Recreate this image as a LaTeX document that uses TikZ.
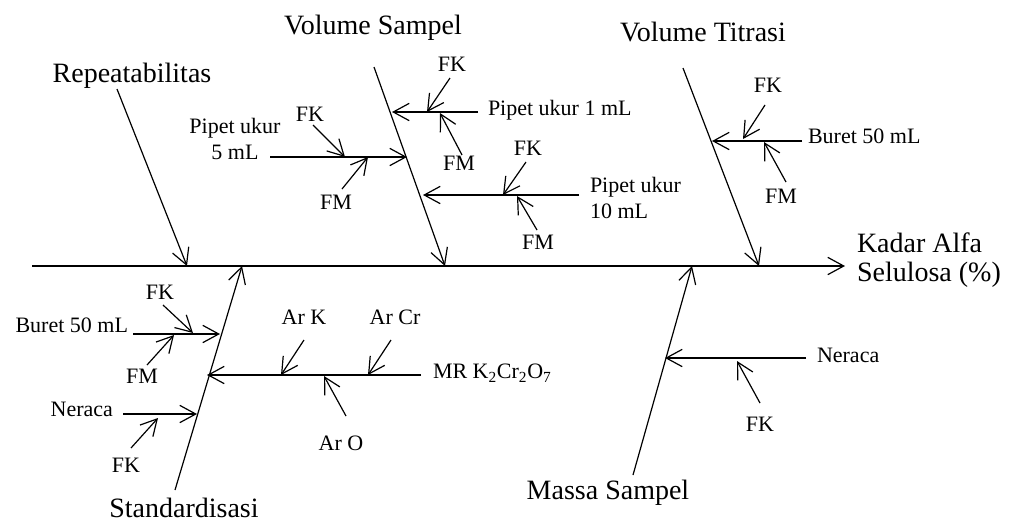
\documentclass[tikz,border=0pt]{standalone}
\usepackage{fontspec}
\setmainfont{Liberation Serif}
\usetikzlibrary{arrows.meta}
\begin{document}
\begin{tikzpicture}[x=0.75pt,y=-0.75pt,
  every node/.style={inner sep=0pt,outer sep=0pt},
  big/.style={font=\fontsize{21}{23}\selectfont},
  small/.style={font=\fontsize{16.5}{19.5}\selectfont},
  conn/.style={line width=0.9pt,-{Straight Barb[length=12pt,width=13pt,line width=0.9pt]}},
  plain/.style={line width=0.9pt}]
\useasboundingbox (0,0) rectangle (1017,522);
% spine
\coordinate (s0) at (32,266);
\coordinate (s1) at (845,266);
\draw[conn] (s0) -- (s1);
\node[big,anchor=west] (kadar) at (857,243) {Kadar Alfa};
\node[big,anchor=west] (selul) at (857,275) {Selulosa (\%)};
% Repeatabilitas
\node[big] (rep) at (132,76) {Repeatabilitas};
\coordinate (r0) at (117,89);
\coordinate (r1) at (187,266);
\draw[conn] (r0) -- (r1);
% Volume Sampel
\node[big] (vs) at (373,28) {Volume Sampel};
\coordinate (vs0) at (374,67);
\coordinate (vs1) at (445,266);
\draw[conn] (vs0) -- (vs1);
% Pipet ukur 1 mL
\node[small,anchor=west] (p1) at (488,110) {Pipet ukur 1 mL};
\coordinate (p1a) at (478,112);
\coordinate (p1b) at (392,112);
\draw[conn] (p1a) -- (p1b);
\node[small] (p1fk) at (452,64) {FK};
\coordinate (p1fka) at (450,78);
\coordinate (p1fkb) at (427,112);
\draw[conn] (p1fka) -- (p1fkb);
\node[small] (p1fm) at (459,163) {FM};
\coordinate (p1fma) at (462,155);
\coordinate (p1fmb) at (440,113);
\draw[conn] (p1fma) -- (p1fmb);
% Pipet ukur 5 mL
\node[small,align=center] (p5) at (235,139) {Pipet ukur\\5 mL};
\coordinate (p5a) at (270,157);
\coordinate (p5b) at (407,157);
\draw[conn] (p5a) -- (p5b);
\node[small] (p5fk) at (310,114) {FK};
\coordinate (p5fka) at (313,125);
\coordinate (p5fkb) at (345,157);
\draw[conn] (p5fka) -- (p5fkb);
\node[small] (p5fm) at (336,202) {FM};
\coordinate (p5fma) at (342,189);
\coordinate (p5fmb) at (368,157);
\draw[conn] (p5fma) -- (p5fmb);
% Pipet ukur 10 mL
\node[small,align=left,anchor=west] (p10) at (590,198) {Pipet ukur\\10 mL};
\coordinate (p10a) at (579,195);
\coordinate (p10b) at (423,195);
\draw[conn] (p10a) -- (p10b);
\node[small] (p10fk) at (528,148) {FK};
\coordinate (p10fka) at (526,162);
\coordinate (p10fkb) at (503,195);
\draw[conn] (p10fka) -- (p10fkb);
\node[small] (p10fm) at (538,242) {FM};
\coordinate (p10fma) at (537,230);
\coordinate (p10fmb) at (517,196);
\draw[conn] (p10fma) -- (p10fmb);
% Volume Titrasi
\node[big] (vt) at (703,32) {Volume Titrasi};
\coordinate (vt0) at (683,68);
\coordinate (vt1) at (759,266);
\draw[conn] (vt0) -- (vt1);
\node[small,anchor=west] (bur1) at (808,136) {Buret 50 mL};
\coordinate (bur1a) at (802,141);
\coordinate (bur1b) at (712,141);
\draw[conn] (bur1a) -- (bur1b);
\node[small] (bur1fk) at (768,85) {FK};
\coordinate (bur1fka) at (765,105);
\coordinate (bur1fkb) at (743,139);
\draw[conn] (bur1fka) -- (bur1fkb);
\node[small] (bur1fm) at (781,196) {FM};
\coordinate (bur1fma) at (786,182);
\coordinate (bur1fmb) at (764,142);
\draw[conn] (bur1fma) -- (bur1fmb);
% Standardisasi
\node[big] (std) at (184,508) {Standardisasi};
\coordinate (st0) at (175,490);
\coordinate (st1) at (242,266);
\draw[conn] (st0) -- (st1);
\node[small,anchor=east] (bur2) at (128,325) {Buret 50 mL};
\coordinate (bur2a) at (133,334);
\coordinate (bur2b) at (220,334);
\draw[conn] (bur2a) -- (bur2b);
\node[small] (bur2fk) at (160,292) {FK};
\coordinate (bur2fka) at (163,305);
\coordinate (bur2fkb) at (193,333);
\draw[conn] (bur2fka) -- (bur2fkb);
\node[small] (bur2fm) at (142,376) {FM};
\coordinate (bur2fma) at (147,365);
\coordinate (bur2fmb) at (174,335);
\draw[conn] (bur2fma) -- (bur2fmb);
\node[small,anchor=west] (mr) at (433,373) {MR K\textsubscript{2}Cr\textsubscript{2}O\textsubscript{7}};
\coordinate (mra) at (421,375);
\coordinate (mrb) at (207,375);
\draw[conn] (mra) -- (mrb);
\node[small] (ark) at (304,317) {Ar K};
\coordinate (arka) at (304,340);
\coordinate (arkb) at (281,375);
\draw[conn] (arka) -- (arkb);
\node[small] (arcr) at (395,317) {Ar Cr};
\coordinate (arcra) at (391,340);
\coordinate (arcrb) at (368,375);
\draw[conn] (arcra) -- (arcrb);
\node[small] (aro) at (341,443) {Ar O};
\coordinate (aroa) at (346,416);
\coordinate (arob) at (324,376);
\draw[conn] (aroa) -- (arob);
\node[small,anchor=east] (ner1) at (113,409) {Neraca};
\coordinate (ner1a) at (123,414);
\coordinate (ner1b) at (197,414);
\draw[conn] (ner1a) -- (ner1b);
\node[small] (ner1fk) at (126,465) {FK};
\coordinate (ner1fka) at (131,448);
\coordinate (ner1fkb) at (158,418);
\draw[conn] (ner1fka) -- (ner1fkb);
% Massa Sampel
\node[big] (ms) at (608,493) {Massa Sampel};
\coordinate (ms0) at (633,475);
\coordinate (ms1) at (692,266);
\draw[conn] (ms0) -- (ms1);
\node[small,anchor=west] (ner2) at (817,355) {Neraca};
\coordinate (ner2a) at (806,358);
\coordinate (ner2b) at (665,358);
\draw[conn] (ner2a) -- (ner2b);
\node[small] (ner2fk) at (760,424) {FK};
\coordinate (ner2fka) at (760,403);
\coordinate (ner2fkb) at (737,361);
\draw[conn] (ner2fka) -- (ner2fkb);
\end{tikzpicture}
\end{document}
